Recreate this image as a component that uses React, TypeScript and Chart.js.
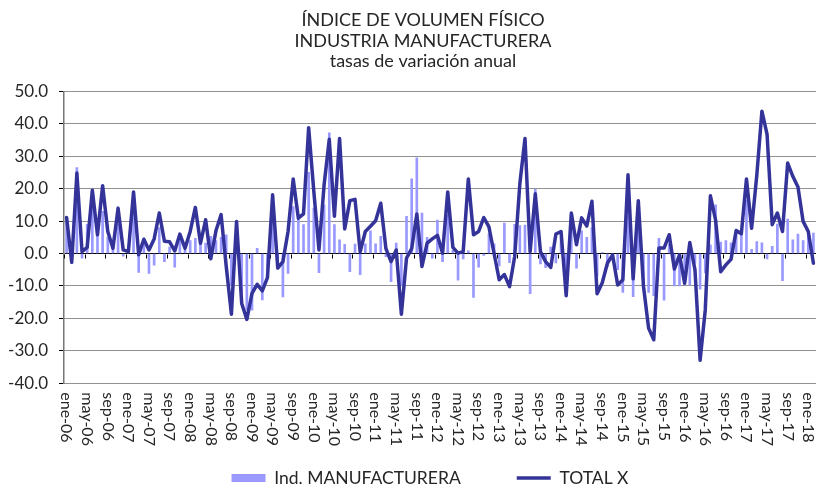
import React, { useEffect, useRef } from 'react';
import { Chart, registerables } from 'chart.js';

Chart.register(...registerables);

const MONTHS = ['ene', 'feb', 'mar', 'abr', 'may', 'jun', 'jul', 'ago', 'sep', 'oct', 'nov', 'dic'];
const YEARS = ['06', '07', '08', '09', '10', '11', '12', '13', '14', '15', '16', '17', '18'];
const N_MONTHS = 146; // ene-06 .. feb-18
const CATEGORIES: string[] = YEARS.flatMap((yy) => MONTHS.map((m) => `${m}-${yy}`)).slice(0, N_MONTHS);
const TICK_EVERY = 4;

const TITLE_LINES = ['ÍNDICE DE VOLUMEN FÍSICO', 'INDUSTRIA MANUFACTURERA', 'tasas de variación anual'];
const SERIES_BAR_NAME = 'Ind. MANUFACTURERA';
const SERIES_LINE_NAME = 'TOTAL X';

const Y_MIN = -40;
const Y_MAX = 50;
const Y_STEP = 10;

// TOTAL X (line)
const TOTAL_X: number[] = [
  11.1, -2.7, 24.8, 0.6, 1.9, 19.5, 5.8, 20.9, 6.8, 1.6,
  14, 1.1, 0.6, 19, -0.4, 4.4, 1.1, 4.5, 12.5, 3.8,
  3.6, 0.8, 6, 1.6, 6.8, 14.2, 3.2, 10.4, -1.6, 7,
  12, -4, -18.7, 9.9, -15.4, -20.3, -12.3, -9.5, -11.5, -7.4,
  18.1, -4.5, -2.5, 6.8, 23, 10.9, 12.2, 38.8, 19.2, 1.1,
  21.2, 35.2, 11.5, 35.5, 7.6, 16.3, 16.7, 0.5, 6.8, 8.4,
  10.1, 15.5, 1.5, -2.5, 1.1, -18.7, -1.4, 1.5, 12.2, -4,
  3.2, 4.5, 5.6, 0.1, 19, 1.9, 0.1, 0.6, 23, 5.8,
  6.8, 11.1, 8.2, 0, -8.1, -6.5, -10.2, -0.9, 21.5, 35.5,
  0.6, 18.4, 0.6, -2.5, -4.3, 6, 6.8, -13, 12.5, 2.7,
  11, 8.5, 16.1, -12.4, -9, -3, -0.4, -9.7, -8.1, 24.3,
  -7.8, 16.3, -10, -23, -26.6, 1.7, 1.7, 5.8, -4.8, -0.4,
  -9.2, 3.4, -5, -32.9, -17.4, 17.8, 10.4, -5.6, -3.5, -1.8,
  7.1, 6.1, 23, 7.8, 24, 43.9, 36.7, 8.9, 12.5, 6.8,
  27.9, 23.8, 20.5, 9.9, 6.8, -3,
];

// Ind. MANUFACTURERA (bars)
const MANUFACTURERA: number[] = [
  10, -2, 26.5, -1.4, 9, 14, 8, 13, 5, 3.2,
  9, -0.8, 0.5, 14, -5.8, 3.5, -6.1, -3.6, 8, -2.5,
  2, -4.2, 4, 1, 4, 4.7, 3.5, 3.2, 5.3, 4,
  5, 5.8, -10, 5, -12, -17.5, -17.5, 1.6, -14.3, -5,
  10, -2, -13.4, -6.1, 14.5, 12, 8.9, 25, 14, -5.9,
  15, 37.2, 8.9, 4.2, 2.8, -5.6, 2.9, -6.5, 3, 7,
  3, 5.3, -1, -8.7, 3.2, -10, 11.5, 23, 29.5, 12.5,
  5, -1.4, 10.3, -2.5, 12, 1, -8.2, -1.7, 0.8, -13.5,
  -4.2, -0.6, 6.1, 3, -3.8, 9.4, -2.8, 9, 8.6, 8.8,
  -12.4, 19.8, -3.2, -4.4, 2, -2.9, 5, -8, 8, -4.5,
  7, 5, 8, -7, 0.3, -4, -2, -5, -12, 15,
  -13.3, 10, -9, -12, -13, 4.7, -14.4, 3, -10, -10,
  -8.5, -9.7, -3, -11, -6, 2.7, 15, 3.5, 4, 3.3,
  6.5, 7, 16.5, 1.3, 3.7, 3.3, -1.7, 2.2, 9.1, -8.4,
  10.6, 4.2, 6, 4, 6, 6.3,
];

const BAR_COLOR = '#9999FF';
const LINE_COLOR = '#333399';
const TEXT_COLOR = '#262626';
const FONT = 'Lato, "Open Sans", sans-serif';

const LEGEND_FONT = 17.5;
const LEGEND_PAD = 56;

// Draws the category tick marks on the zero line and the clockwise-rotated month labels
const axisDecor = {
  id: 'axisDecor',
  afterLayout(chart: any) {
    // centre title and legend like the original (slightly right of the canvas centre)
    if (chart.titleBlock) chart.titleBlock.left = 30;
    if (chart.legend) chart.legend.left = 44;
  },
  beforeDatasetsDraw(chart: any) {
    const { ctx, scales } = chart;
    const x = scales.x;
    const y = scales.y;
    const y0 = Math.round(y.getPixelForValue(0)) + 0.5;
    ctx.save();
    ctx.strokeStyle = '#000';
    ctx.lineWidth = 1;
    ctx.beginPath();
    for (let k = 0; k <= CATEGORIES.length; k += TICK_EVERY) {
      const px = Math.round(x.getPixelForValue(k - 0.5)) + 0.5;
      ctx.moveTo(px, y0);
      ctx.lineTo(px, y0 + 4);
    }
    ctx.stroke();
    ctx.restore();
  },
  afterDraw(chart: any) {
    const { ctx, chartArea, scales } = chart;
    const x = scales.x;
    ctx.save();
    ctx.font = `16px ${FONT}`;
    ctx.fillStyle = TEXT_COLOR;
    ctx.textAlign = 'left';
    ctx.textBaseline = 'middle';
    CATEGORIES.forEach((lab, i) => {
      if (i % TICK_EVERY !== 0) return;
      const px = x.getPixelForValue(i);
      ctx.save();
      ctx.translate(px, chartArea.bottom + 9);
      ctx.rotate(Math.PI / 2);
      ctx.fillText(lab, 0, 0);
      ctx.restore();
    });
    ctx.restore();
  },
};

export default function App() {
  const canvasRef = useRef<HTMLCanvasElement | null>(null);

  useEffect(() => {
    document.body.style.margin = '0';
    const canvas = canvasRef.current;
    if (!canvas) return;
    Chart.defaults.font.family = FONT;
    const chart = new Chart(canvas, {
      type: 'bar',
      data: {
        labels: CATEGORIES,
        datasets: [
          {
            type: 'line',
            label: SERIES_LINE_NAME,
            data: TOTAL_X,
            borderColor: LINE_COLOR,
            backgroundColor: LINE_COLOR,
            borderWidth: 3.5,
            pointRadius: 0,
            tension: 0,
            borderJoinStyle: 'round',
            borderCapStyle: 'round',
            order: 0,
          } as any,
          {
            type: 'bar',
            label: SERIES_BAR_NAME,
            data: MANUFACTURERA,
            backgroundColor: BAR_COLOR,
            borderWidth: 0,
            barThickness: 2,
            order: 1,
          } as any,
        ],
      },
      options: {
        responsive: false,
        animation: false,
        devicePixelRatio: 1,
        layout: { padding: { left: 0, right: 2, top: 0, bottom: 0 } },
        plugins: {
          tooltip: { enabled: false },
          title: {
            display: true,
            text: TITLE_LINES,
            color: TEXT_COLOR,
            font: { family: FONT, size: 18, weight: 'normal', lineHeight: 1.14 },
            padding: { top: 10, bottom: 19.8 },
          },
          legend: {
            display: true,
            position: 'bottom',
            maxHeight: 487 + LEGEND_PAD + LEGEND_FONT / 2 - 478,
            labels: {
              color: TEXT_COLOR,
              font: { family: FONT, size: LEGEND_FONT },
              padding: LEGEND_PAD,
              usePointStyle: true,
              pointStyleWidth: 34,
              boxHeight: 8,
              generateLabels: () => [
                {
                  text: SERIES_BAR_NAME,
                  fillStyle: BAR_COLOR,
                  strokeStyle: BAR_COLOR,
                  lineWidth: 0,
                  pointStyle: 'rect',
                  hidden: false,
                  datasetIndex: 1,
                  fontColor: TEXT_COLOR,
                },
                {
                  text: SERIES_LINE_NAME,
                  fillStyle: LINE_COLOR,
                  strokeStyle: LINE_COLOR,
                  lineWidth: 3.5,
                  pointStyle: 'line',
                  hidden: false,
                  datasetIndex: 0,
                  fontColor: TEXT_COLOR,
                },
              ],
            },
          },
        },
        scales: {
          x: {
            type: 'category',
            offset: true,
            grid: { display: false },
            border: { display: false },
            ticks: { display: false },
            afterFit: (scale: any) => {
              scale.height = 30;
            },
          },
          y: {
            min: Y_MIN,
            max: Y_MAX,
            ticks: {
              stepSize: Y_STEP,
              color: TEXT_COLOR,
              font: { family: FONT, size: 17 },
              padding: 11,
              callback: (v: any) => Number(v).toFixed(1),
            },
            grid: {
              color: (ctx: any) => (ctx.tick && ctx.tick.value === 0 ? '#000' : '#222'),
              lineWidth: 1,
              drawTicks: true,
              tickLength: 5,
              tickColor: '#000',
            },
            border: {
              display: true,
              color: '#777',
              width: 1.5,
              dash: (ctx: any) => (ctx.type === 'tick' && ctx.tick && ctx.tick.value !== 0 ? [1, 1] : []),
            },
            afterFit: (scale: any) => {
              scale.width = 64;
            },
          },
        },
      },
      plugins: [axisDecor],
    } as any);
    return () => chart.destroy();
  }, []);

  return (
    <div style={{ position: 'absolute', left: 0, top: 0, width: 818, height: 487 }}>
      <canvas ref={canvasRef} width={818} height={487} style={{ display: 'block' }} />
    </div>
  );
}
